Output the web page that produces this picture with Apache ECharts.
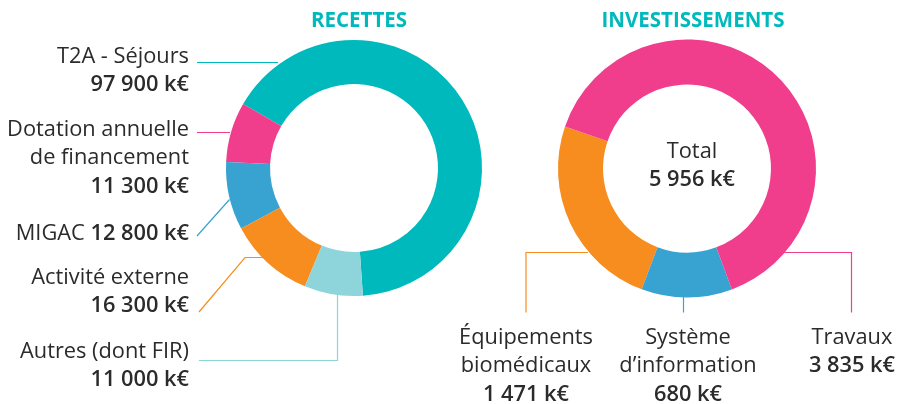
<!DOCTYPE html>
<html>
<head>
<meta charset="utf-8">
<script src="https://cdn.jsdelivr.net/npm/echarts@6/dist/echarts.min.js"></script>
<style>
  html, body { margin: 0; padding: 0; background: #fff; }
  #main { width: 898px; height: 404px; }
</style>
</head>
<body>
<div id="main"></div>
<script>
// recettes (left donut)
const recNames = ["T2A - Séjours", "Dotation annuelle\nde financement", "MIGAC", "Activité externe", "Autres (dont FIR)"];
const recValues = [97900, 11300, 12800, 16300, 11000];
const recColors = ["#00b9bd", "#f03d8c", "#38a2d1", "#f78d1f", "#8ed4db"];

// investissements (right donut)
const invNames = ["Équipements\nbiomédicaux", "Système\nd’information", "Travaux"];
const invValues = [1471, 680, 3835];
const invColors = ["#f78d1f", "#38a2d1", "#f03d8c"];
const invTotal = 5956;

const textColor = "#2b2b2b";
const font = "'Open Sans', sans-serif";

// label anchor + leader line points (layout only)
const recLayout = [
  { x: 189, y: 42, sep: "\n", line: [[278, 62.5], [240, 62.5], [197, 62.5]] },
  { x: 189, y: 115, sep: "\n", line: [[230, 132.5], [215, 132.5], [197, 132.5]] },
  { x: 189, y: 219, sep: "", line: [[229.5, 199.5], [213, 218], [197, 236]] },
  { x: 189, y: 263, sep: "\n", line: [[263, 257.5], [245, 257.5], [199, 312]] },
  { x: 189, y: 337, sep: "\n", line: [[337.5, 295], [337.5, 360.5], [199, 360.5]] },
];
const invLayout = [
  { x: 526, y: 323, line: [[588, 252.5], [526, 252.5], [526, 312.5]] },
  { x: 688, y: 323, line: [[683.5, 297], [683.5, 305], [683.5, 312.5]] },
  { x: 852, y: 323, line: [[784, 252.5], [851.5, 252.5], [851.5, 312.5]] },
];

function fmt(v) {
  return String(v).replace(/\B(?=(\d{3})+(?!\d))/g, " ") + " k€";
}

function richStyles(align) {
  return {
    n: { fontFamily: font, fontSize: 21.8, fontWeight: "normal", color: textColor, lineHeight: 28.8, align: align },
    b: { fontFamily: font, fontSize: 21.8, fontWeight: 600, color: textColor, lineHeight: 28.8, align: align },
  };
}

function nameLines(name, sep) {
  return name.split("\n").map((s) => "{n|" + s + (sep === "" ? " " : "") + "}").join("\n");
}

const chart = echarts.init(document.getElementById("main"), null, { renderer: "canvas" });

const option = {
  animation: false,
  title: [
    {
      text: "RECETTES",
      left: 354,
      top: 6,
      textAlign: "center",
      textStyle: { fontFamily: font, fontSize: 20.5, fontWeight: "bold", color: "#00b9bd" },
    },
    {
      text: "INVESTISSEMENTS",
      left: 688,
      top: 6,
      textAlign: "center",
      textStyle: { fontFamily: font, fontSize: 20.5, fontWeight: "bold", color: "#00b9bd" },
    },
    {
      text: "{n|Total}\n{b|" + fmt(invTotal) + "}",
      left: 687,
      top: 132,
      textAlign: "center",
      textStyle: { fontWeight: "normal", rich: richStyles("center") },
    },
  ],
  series: [
    {
      type: "pie",
      center: [354, 168],
      radius: [84, 128],
      startAngle: -86,
      clockwise: false,
      avoidLabelOverlap: false,
      data: recValues.map((v, i) => ({
        name: recNames[i],
        value: v,
        itemStyle: { color: recColors[i] },
      })),
      label: {
        show: true,
        formatter: (p) => {
          const sep = recLayout[p.dataIndex].sep;
          return nameLines(p.name, sep) + sep + "{b|" + fmt(p.value) + "}";
        },
        rich: richStyles("right"),
      },
      labelLine: { show: true, lineStyle: { width: 1.2 } },
      labelLayout: (p) => {
        const l = recLayout[p.dataIndex];
        return { x: l.x, y: l.y, align: "right", verticalAlign: "top", labelLinePoints: l.line };
      },
      emphasis: { disabled: true },
    },
    {
      type: "pie",
      center: [687, 168.5],
      radius: [84, 129],
      startAngle: 161,
      clockwise: false,
      avoidLabelOverlap: false,
      data: invValues.map((v, i) => ({
        name: invNames[i],
        value: v,
        itemStyle: { color: invColors[i] },
      })),
      label: {
        show: true,
        formatter: (p) => nameLines(p.name, "\n") + "\n{b|" + fmt(p.value) + "}",
        rich: richStyles("center"),
      },
      labelLine: { show: true, lineStyle: { width: 1.2 } },
      labelLayout: (p) => {
        const l = invLayout[p.dataIndex];
        return { x: l.x, y: l.y, align: "center", verticalAlign: "top", labelLinePoints: l.line };
      },
      emphasis: { disabled: true },
    },
  ],
};

chart.setOption(option);
</script>
</body>
</html>
